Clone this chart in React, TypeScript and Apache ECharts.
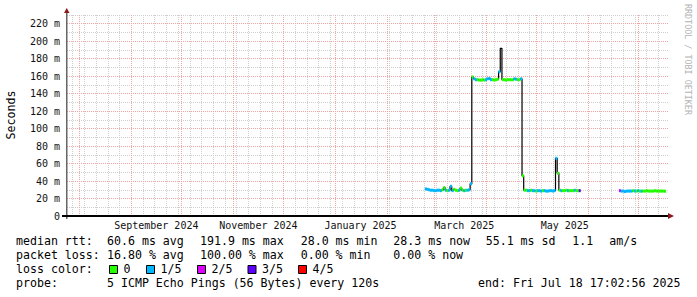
import React, { useEffect, useRef } from 'react';
import * as echarts from 'echarts';

// ---------- time helpers (x axis is in days since 2024-08-01 00:00 UTC) ----------
const ORIGIN = Date.UTC(2024, 7, 1);
const toDay = (iso: string) =>
  (Date.parse(iso.length === 10 ? iso + 'T00:00:00Z' : iso + 'Z') - ORIGIN) / 86400000;

const RANGE_START = '2024-07-24T15:36:00';
const RANGE_END = '2025-07-18T17:02:56';

// ---------- axes ----------
const monthGrid = [
  '2024-08-01', '2024-09-01', '2024-10-01', '2024-11-01', '2024-12-01', '2025-01-01',
  '2025-02-01', '2025-03-01', '2025-04-01', '2025-05-01', '2025-06-01', '2025-07-01',
];
const firstWeekGrid = '2024-07-28';
const xLabelTexts = ['September 2024', 'November 2024', 'January 2025', 'March 2025', 'May 2025'];
const xLabelDates = ['2024-09-16', '2024-11-16', '2025-01-16', '2025-03-19', '2025-05-18'];
const yMax = 230;
const yMajorStep = 20;
const yMinorStep = 10;
const yUnit = ' m';
const yTitle = 'Seconds';

// ---------- loss legend ----------
const LOSS_COLORS = ['#26ff00', '#00b8ff', '#dd00ff', '#5e00ff', '#ff0000'];
const LOSS_LABELS = ['0', '1/5', '2/5', '3/5', '4/5'];

// ---------- data: daily median rtt (ms) and loss index ----------
const seg1Start = '2025-02-24';
const seg1Median = [31.0, 30.5, 30.0, 29.5, 29.5, 29.0, 29.0, 29.5, 29.5, 29.0,
  30.0, 32.5, 29.5, 29.0, 29.5, 34.0, 29.0, 30.5, 29.5, 29.0,
  29.5, 32.0, 29.5, 29.0, 29.5, 29.5, 30.0, 37.0];
const seg1Loss = [1, 1, 1, 1, 1, 1, 1, 1, 1, 1,
  0, 0, 1, 0, 1, 1, 1, 0, 0, 0,
  1, 0, 0, 1, 0, 1, 1, 1];

const seg2Start = '2025-03-24';
const seg2Median = [159, 157, 156, 156, 155.5, 155.5, 156, 155.5, 156, 157,
  157.5, 156, 156, 155.5, 156, 156.5, 165, 191.9, 156, 156,
  155.5, 156, 156, 156, 156, 157, 156.5, 156, 156, 157];
const seg2Loss = [0, 1, 1, 0, 0, 0, 0, 0, 1, 1,
  1, 1, 0, 0, 0, 0, 1, null, 0, 0,
  0, 0, 0, 0, 0, 1, 1, 0, 0, 1];

const seg3Start = '2025-04-23';
const seg3Median = [46, 29.5, 29.5, 29, 29, 29.5, 29, 29, 28.5, 29,
  29, 28.5, 29, 29, 28.5, 28.5, 29, 29, 28.5, 29,
  66, 49, 29.5, 29, 29, 29, 29.5, 29, 29, 29,
  29, 29.5, 29, 29, 29];
const seg3Loss = [0, 0, 0, 1, 1, 0, 1, 1, 0, 1,
  1, 1, 0, 1, 1, 1, 1, 1, 1, 1,
  1, 0, 0, 1, 0, 0, 0, 1, 0, 0,
  0, 1, 0, 0, 3];

const seg4Start = '2025-06-20';
const seg4Median = [29, 28.5, 28.5, 28, 28.5, 28.5, 28.5, 28.5, 29, 28.5,
  28.5, 29, 28.5, 28.5, 28.5, 28.5, 29, 28.5, 28.5, 28.5,
  28.5, 29, 28.5, 28.5, 28.5, 28.5, 28.5, 28.3];
const seg4Loss = [2, 1, 1, 1, 1, 1, 1, 1, 0, 1,
  0, 1, 0, 1, 0, 0, 0, 0, 0, 0,
  0, 0, 0, 0, 0, 0, 0, 0];

// ---------- legend texts ----------
const rttLabel = 'median rtt:';
const rttStats = ['60.6 ms avg', '191.9 ms max', '28.0 ms min', '28.3 ms now', '55.1 ms sd', '1.1', 'am/s'];
const lossLabel = 'packet loss:';
const lossStats = ['16.80 % avg', '100.00 % max', '0.00 % min', '0.00 % now'];
const lossColorLabel = 'loss color:';
const probeLabel = 'probe:';
const probeText = '5 ICMP Echo Pings (56 Bytes) every 120s';
const endText = 'end: Fri Jul 18 17:02:56 2025';
const creditText = 'RRDTOOL / TOBI OETIKER';

const MONO = '"DejaVu Sans Mono", monospace';

export default function App() {
  const ref = useRef<HTMLDivElement>(null);

  useEffect(() => {
    if (!ref.current) return;
    const chart = echarts.init(ref.current, undefined, { renderer: 'svg' });

    const xMin = toDay(RANGE_START);
    const xMax = toDay(RANGE_END);

    const segments = [
      { start: seg1Start, median: seg1Median, loss: seg1Loss },
      { start: seg2Start, median: seg2Median, loss: seg2Loss },
      { start: seg3Start, median: seg3Median, loss: seg3Loss },
      { start: seg4Start, median: seg4Median, loss: seg4Loss },
    ];

    // contiguous runs of samples -> one median line each (no gaps inside a step line)
    const runs: any[][] = [];
    const bandData: any[] = [];
    let prevEnd: number | null = null;
    segments.forEach((s) => {
      const d0 = toDay(s.start);
      if (prevEnd === null || d0 - prevEnd > 1.5) runs.push([]);
      const run = runs[runs.length - 1];
      s.median.forEach((v, i) => {
        run.push([d0 + i, v]);
        const l = s.loss[i];
        if (l !== null && l !== undefined) bandData.push([d0 + i, v, l]);
      });
      prevEnd = d0 + s.median.length - 1;
    });

    // grid lines (drawn beneath the data)
    const GRAY = '#cfcfcf';
    const RED = '#f0a4a4';
    const gridLines: any[] = [];
    for (let d = toDay(firstWeekGrid); d <= xMax; d += 7) {
      gridLines.push({ xAxis: d, lineStyle: { color: GRAY, type: [1, 1], width: 1 } });
    }
    for (let v = yMinorStep; v <= yMax; v += yMajorStep) {
      gridLines.push({ yAxis: v, lineStyle: { color: GRAY, type: [1, 1], width: 1 } });
    }
    monthGrid.forEach((m) => {
      gridLines.push({ xAxis: toDay(m), lineStyle: { color: RED, type: [1, 1], width: 1 } });
    });
    for (let v = yMajorStep; v < yMax; v += yMajorStep) {
      gridLines.push({ yAxis: v, lineStyle: { color: RED, type: [1, 1], width: 1 } });
    }

    const labelDays = xLabelDates.map(toDay);

    const graphics: any[] = [];
    const txt = (text: string, x: number, y: number, extra: any = {}) =>
      graphics.push({
        type: 'text', x, y, silent: true,
        style: { text, fontFamily: MONO, fontSize: 11.6, fill: '#000', align: 'left', verticalAlign: 'middle', ...extra },
      });

    // y title
    graphics.push({
      type: 'text', x: 11, y: 115, rotation: Math.PI / 2, silent: true,
      style: { text: yTitle, fontFamily: MONO, fontSize: 11.6, fill: '#000', align: 'center', verticalAlign: 'middle' },
    });
    // credit
    graphics.push({
      type: 'text', x: 688, y: 4, rotation: -Math.PI / 2, silent: true,
      style: { text: creditText, fontFamily: MONO, fontSize: 8.4, fill: '#b4b4b4', align: 'left', verticalAlign: 'middle' },
    });
    // axis lines with overhangs and arrows
    graphics.push({ type: 'line', silent: true, z: 20, shape: { x1: 66.75, y1: 12, x2: 66.75, y2: 219 }, style: { stroke: '#666', lineWidth: 1.5 } });
    graphics.push({ type: 'line', silent: true, z: 20, shape: { x1: 62, y1: 216, x2: 668, y2: 216 }, style: { stroke: '#000', lineWidth: 2 } });
    graphics.push({ type: 'polygon', silent: true, z: 20, shape: { points: [[64, 13], [69.5, 13], [66.75, 8]] }, style: { fill: '#8b1a1a' } });
    graphics.push({ type: 'polygon', silent: true, z: 20, shape: { points: [[668, 213], [668, 219], [674, 216]] }, style: { fill: '#8b1a1a' } });

    // legend rows
    const rowY = [241, 255, 269, 283];
    const colX = [107, 200, 300.7, 393.3, 485.7, 572.3, 609.3];
    txt(rttLabel, 16, rowY[0]);
    rttStats.forEach((s, i) => txt(s, colX[i], rowY[0]));
    txt(lossLabel, 16, rowY[1]);
    lossStats.forEach((s, i) => txt(s, colX[i], rowY[1]));
    txt(lossColorLabel, 16, rowY[2]);
    const sqX = [109, 146, 197, 247.5, 298];
    LOSS_LABELS.forEach((lab, i) => {
      graphics.push({
        type: 'rect', silent: true,
        shape: { x: sqX[i] + 0.5, y: 265.5, width: 8, height: 8 },
        style: { fill: LOSS_COLORS[i], stroke: '#000', lineWidth: 1 },
      });
      txt(lab, sqX[i] + 14.5, rowY[2]);
    });
    txt(probeLabel, 16, rowY[3]);
    txt(probeText, 107, rowY[3]);
    txt(endText, 478, rowY[3]);

    const medianSeries = runs.map((run) => ({
      type: 'line', data: run, step: 'middle', showSymbol: false, symbol: 'none',
      z: 8, silent: true,
      lineStyle: { color: '#000', width: 1.2, type: 'solid' },
    }));

    const option: any = {
      animation: false,
      backgroundColor: '#ffffff',
      grid: { left: 67, right: 29, top: 15, bottom: 81, containLabel: false },
      xAxis: [
        {
          type: 'value', min: xMin, max: xMax,
          axisLine: { show: false },
          axisTick: { show: false }, axisLabel: { show: false }, splitLine: { show: false },
        },
        {
          type: 'value', min: xMin, max: xMax, position: 'bottom',
          axisLine: { show: false }, axisTick: { show: false }, splitLine: { show: false },
          axisLabel: {
            show: true,
            customValues: labelDays,
            formatter: (v: number) => {
              const i = labelDays.findIndex((d) => Math.abs(d - v) < 1e-6);
              return i >= 0 ? xLabelTexts[i] : '';
            },
            fontFamily: MONO, fontSize: 10, color: '#111', margin: 4,
          },
        },
      ],
      yAxis: {
        type: 'value', min: 0, max: yMax, interval: yMajorStep,
        axisLine: { show: false, onZero: false },
        axisTick: { show: false }, splitLine: { show: false },
        axisLabel: {
          showMaxLabel: false,
          formatter: (v: number) => (v === 0 ? '0' : v + yUnit),
          fontFamily: MONO, fontSize: 10, color: '#111', margin: 7,
        },
      },
      series: [
        {
          type: 'line', data: [], z: 1, silent: true,
          markLine: { z: 1, silent: true, symbol: ['none', 'none'], label: { show: false }, animation: false, data: gridLines },
        },
        ...medianSeries,
        {
          type: 'custom', data: bandData, z: 9, silent: true,
          encode: { x: 0, y: 1 },
          renderItem: (params: any, api: any) => {
            const d = api.value(0);
            const v = api.value(1);
            const l = api.value(2);
            const p0 = api.coord([d - 0.5, v]);
            const p1 = api.coord([d + 0.5, v]);
            return {
              type: 'rect',
              shape: { x: p0[0] - 0.15, y: p0[1] - 1.5, width: p1[0] - p0[0] + 0.3, height: 3 },
              style: { fill: LOSS_COLORS[l] },
            };
          },
        },
      ],
      graphic: { elements: graphics },
    };

    chart.setOption(option);
    return () => chart.dispose();
  }, []);

  return (
    <div
      ref={ref}
      style={{ position: 'fixed', left: 0, top: 0, width: 697, height: 297, background: '#fff' }}
    />
  );
}
